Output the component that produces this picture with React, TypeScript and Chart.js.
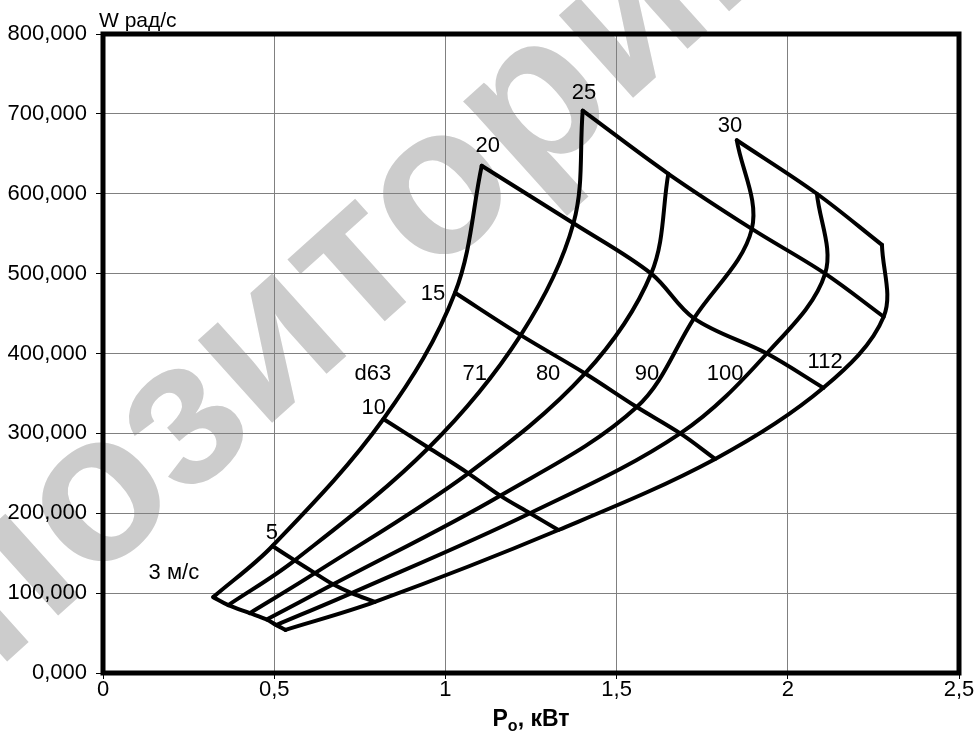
import React, { useEffect, useRef } from "react";
import { Chart, registerables } from "chart.js";

Chart.register(...registerables);

// Speeds of the constant-speed lines, m/s
const SPEEDS = [3, 5, 10, 15, 20, 25, 30];

// Constant-diameter curves: power P (kW) and angular speed W (rad/s) at each speed
const D63_P = [0.322, 0.495, 0.819, 1.028, 1.106];
const D63_W = [95, 159, 318, 476, 635];
const D71_P = [0.366, 0.56, 0.951, 1.22, 1.374, 1.401];
const D71_W = [85, 141, 282, 423, 563, 704];
const D80_P = [0.429, 0.619, 1.067, 1.408, 1.601, 1.651];
const D80_W = [75, 125, 250, 375, 500, 625];
const D90_P = [0.478, 0.672, 1.16, 1.559, 1.726, 1.895, 1.851];
const D90_W = [67, 111, 222, 333, 444, 556, 667];
const D100_P = [0.506, 0.726, 1.247, 1.686, 1.939, 2.109, 2.085];
const D100_W = [60, 100, 200, 300, 400, 500, 600];
const D112_P = [0.533, 0.794, 1.33, 1.788, 2.104, 2.28, 2.275];
const D112_W = [54, 89, 179, 268, 357, 446, 536];

// Axis ticks
const X_TICKS = [0, 0.5, 1, 1.5, 2, 2.5];
const Y_TICKS = [0, 100, 200, 300, 400, 500, 600, 700, 800];

// In-plot labels (data coordinates)
const LABEL_TEXT = ["3 м/с", "5", "10", "15", "20", "25", "30", "d63", "71", "80", "90", "100", "112"];
const LABEL_X = [0.207, 0.493, 0.791, 0.964, 1.124, 1.405, 1.831, 0.788, 1.086, 1.3, 1.589, 1.817, 2.109];
const LABEL_Y = [124.7, 175, 332, 474, 660, 726, 685, 375, 375, 374, 374, 375, 390];

const FONT = '"Liberation Sans", Arial, Helvetica, sans-serif';

export default function App() {
  const ref = useRef<HTMLCanvasElement | null>(null);

  useEffect(() => {
    if (!ref.current) return;
    const curves = [
      { P: D63_P, W: D63_W },
      { P: D71_P, W: D71_W },
      { P: D80_P, W: D80_W },
      { P: D90_P, W: D90_W },
      { P: D100_P, W: D100_W },
      { P: D112_P, W: D112_W },
    ];
    const lineStyle = {
      showLine: true,
      borderColor: "#000",
      backgroundColor: "#000",
      borderWidth: 4,
      pointRadius: 0,
      pointHoverRadius: 0,
      tension: 0.35,
      fill: false,
      borderCapStyle: "round" as const,
      borderJoinStyle: "round" as const,
    };
    const datasets: any[] = [];
    curves.forEach((c) => {
      datasets.push({ ...lineStyle, data: c.P.map((p, i) => ({ x: p, y: c.W[i] })) });
    });
    SPEEDS.forEach((_, i) => {
      const pts = curves.filter((c) => c.P.length > i).map((c) => ({ x: c.P[i], y: c.W[i] }));
      datasets.push({ ...lineStyle, data: pts });
    });

    const watermark = {
      id: "watermark",
      beforeDraw(chart: any) {
        const ctx = chart.ctx;
        ctx.save();
        const size = 210;
        ctx.font = `bold ${size}px ${FONT}`;
        ctx.fillStyle = "#cccccc";
        ctx.translate(188, 425);
        ctx.rotate((-42 * Math.PI) / 180);
        const pre = ctx.measureText("Репо").width;
        const zw = ctx.measureText("з").width;
        ctx.textBaseline = "alphabetic";
        ctx.textAlign = "left";
        ctx.fillText("Репозиторий", -(pre + zw / 2), 0.26 * size);
        ctx.restore();
      },
    };

    const frame = {
      id: "frame",
      beforeDatasetsDraw(chart: any) {
        const { ctx, chartArea: a } = chart;
        ctx.save();
        ctx.strokeStyle = "#000";
        ctx.lineWidth = 5;
        ctx.strokeRect(a.left, a.top, a.right - a.left, a.bottom - a.top);
        ctx.restore();
      },
    };

    const texts = {
      id: "texts",
      afterDatasetsDraw(chart: any) {
        const { ctx, scales, chartArea: a } = chart;
        ctx.save();
        ctx.fillStyle = "#000";
        // in-plot labels
        ctx.font = `22px ${FONT}`;
        ctx.textAlign = "center";
        ctx.textBaseline = "middle";
        LABEL_TEXT.forEach((t, i) => {
          ctx.fillText(t, scales.x.getPixelForValue(LABEL_X[i]), scales.y.getPixelForValue(LABEL_Y[i]));
        });
        // y axis title
        ctx.font = `21px ${FONT}`;
        ctx.textAlign = "left";
        ctx.textBaseline = "alphabetic";
        ctx.fillText("W рад/с", a.left - 4, 27);
        // x axis title with subscript
        const big = `bold 23px ${FONT}`;
        const small = `bold 16px ${FONT}`;
        ctx.font = big;
        const wP = ctx.measureText("P").width;
        const wRest = ctx.measureText(", кВт").width;
        ctx.font = small;
        const wo = ctx.measureText("o").width;
        const total = wP + wo + wRest;
        let x = (a.left + a.right) / 2 - total / 2;
        const base = 726;
        ctx.font = big;
        ctx.fillText("P", x, base);
        x += wP;
        ctx.font = small;
        ctx.fillText("o", x, base + 5);
        x += wo;
        ctx.font = big;
        ctx.fillText(", кВт", x, base);
        ctx.restore();
      },
    };

    const chart = new Chart(ref.current, {
      type: "scatter",
      data: { datasets },
      options: {
        responsive: false,
        animation: false,
        devicePixelRatio: 1,
        events: [],
        layout: { padding: { left: 0, right: 18, top: 34, bottom: 0 } },
        plugins: { legend: { display: false }, tooltip: { enabled: false } },
        scales: {
          x: {
            type: "linear",
            min: 0,
            max: 2.5,
            afterFit: (s: any) => {
              s.height = 71;
            },
            afterBuildTicks: (s: any) => {
              s.ticks = X_TICKS.map((v) => ({ value: v }));
            },
            ticks: {
              color: "#000",
              font: { family: FONT, size: 22, lineHeight: 1 },
              padding: 0,
              maxRotation: 0,
              callback: (v: any) => String(v).replace(".", ","),
            },
            grid: { color: "#808080", lineWidth: 1, drawTicks: true, tickLength: 6, tickColor: "#000", tickWidth: 1 },
            border: { display: false },
          },
          y: {
            type: "linear",
            min: 0,
            max: 800,
            afterFit: (s: any) => {
              s.width = 103;
            },
            afterBuildTicks: (s: any) => {
              s.ticks = Y_TICKS.map((v) => ({ value: v }));
            },
            ticks: {
              color: "#000",
              font: { family: FONT, size: 22, lineHeight: 1 },
              padding: 9,
              callback: (v: any) => Number(v).toFixed(3).replace(".", ","),
            },
            grid: { color: "#808080", lineWidth: 1, drawTicks: true, tickLength: 7, tickColor: "#000", tickWidth: 1 },
            border: { display: false },
          },
        },
      },
      plugins: [watermark, frame, texts],
    });
    return () => chart.destroy();
  }, []);

  return (
    <canvas
      ref={ref}
      width={977}
      height={744}
      style={{ position: "absolute", left: 0, top: 0, width: 977, height: 744, display: "block" }}
    />
  );
}
